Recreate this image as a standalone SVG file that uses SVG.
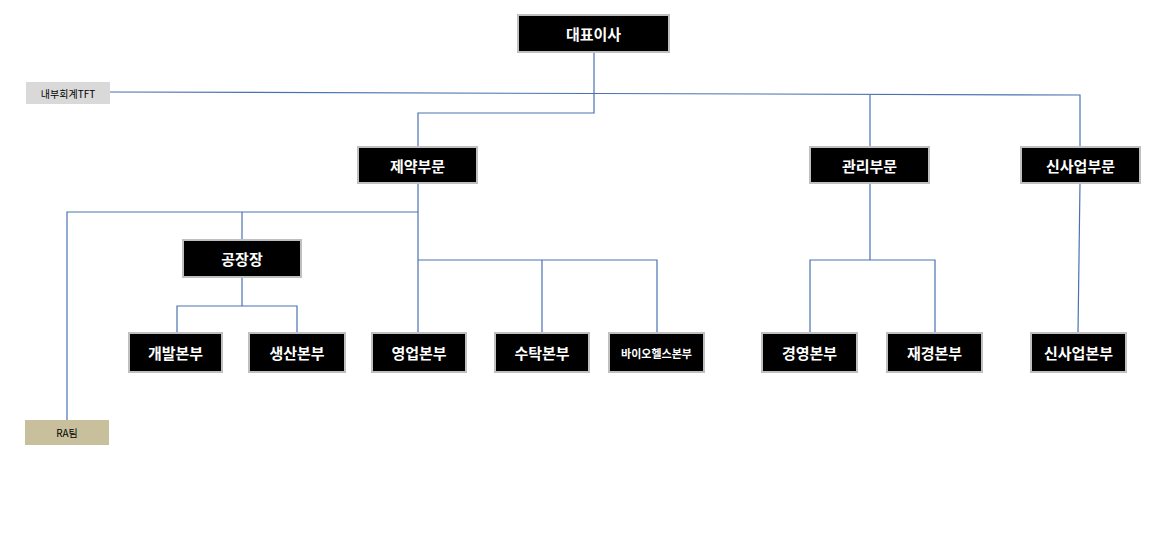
<svg xmlns="http://www.w3.org/2000/svg" width="1171" height="548" viewBox="0 0 1171 548">
<style>
.b{fill:#000;stroke:#bfbfbf;stroke-width:2}
.t{fill:#fff;font-family:"Noto Sans CJK KR",sans-serif;font-weight:bold;font-size:15px;text-anchor:middle;dominant-baseline:central}
.s{fill:#000;font-family:"Noto Sans CJK KR",sans-serif;font-size:10px;text-anchor:middle;dominant-baseline:central}
.c{fill:none;stroke:#4a72b0;stroke-width:1.2}
</style>
<rect width="1171" height="548" fill="#fff"/>
<g id="connectors" class="c">
<path d="M110 92 L1080 95 L1080 147"/>
<path d="M594 52 V113 H418 V147"/>
<path d="M870 95 V147"/>
<path d="M418 183 V260"/>
<path d="M67 420 V212 H418"/>
<path d="M242 212 V240"/>
<path d="M242 277 V306 M177 333 V306 H297 V333"/>
<path d="M418 260 H657 V333 M418 260 V333 M542 260 V333"/>
<path d="M870 183 V260 M810 333 V260 H935 V333"/>
<path d="M1080 183 L1078 333"/>
</g>
<g id="ceo"><rect class="b" x="518" y="15" width="151" height="37"/><text class="t" x="593.5" y="33.5">대표이사</text></g>
<g id="tft"><rect x="26" y="82" width="84" height="22" fill="#d9d9d9"/><text class="s" x="68" y="93">내부회계TFT</text></g>
<g id="pharma"><rect class="b" x="358" y="147" width="119" height="36"/><text class="t" x="417.5" y="165">제약부문</text></g>
<g id="mgmt"><rect class="b" x="810" y="147" width="119" height="36"/><text class="t" x="869.5" y="165">관리부문</text></g>
<g id="newbiz"><rect class="b" x="1021" y="147" width="119" height="36"/><text class="t" x="1080.5" y="165">신사업부문</text></g>
<g id="plant"><rect class="b" x="183" y="240" width="118" height="37"/><text class="t" x="242" y="258.5">공장장</text></g>
<g id="dev"><rect class="b" x="129" y="333" width="93" height="39"/><text class="t" x="175.5" y="352.5">개발본부</text></g>
<g id="prod"><rect class="b" x="249" y="333" width="96" height="39"/><text class="t" x="297" y="352.5">생산본부</text></g>
<g id="sales"><rect class="b" x="372" y="333" width="94" height="39"/><text class="t" x="419" y="352.5">영업본부</text></g>
<g id="cmo"><rect class="b" x="495" y="333" width="94" height="39"/><text class="t" x="542" y="352.5">수탁본부</text></g>
<g id="bio"><rect class="b" x="609" y="333" width="95" height="39"/><text class="t" x="656.5" y="352.5" style="font-size:11px">바이오헬스본부</text></g>
<g id="admin"><rect class="b" x="762" y="333" width="95" height="39"/><text class="t" x="809.5" y="352.5">경영본부</text></g>
<g id="fin"><rect class="b" x="887" y="333" width="95" height="39"/><text class="t" x="934.5" y="352.5">재경본부</text></g>
<g id="newbizhq"><rect class="b" x="1031" y="333" width="95" height="39"/><text class="t" x="1078.5" y="352.5">신사업본부</text></g>
<g id="ra"><rect x="25" y="420" width="84" height="25" fill="#c8bf9c"/><text class="s" x="67" y="432.5">RA팀</text></g>
</svg>
